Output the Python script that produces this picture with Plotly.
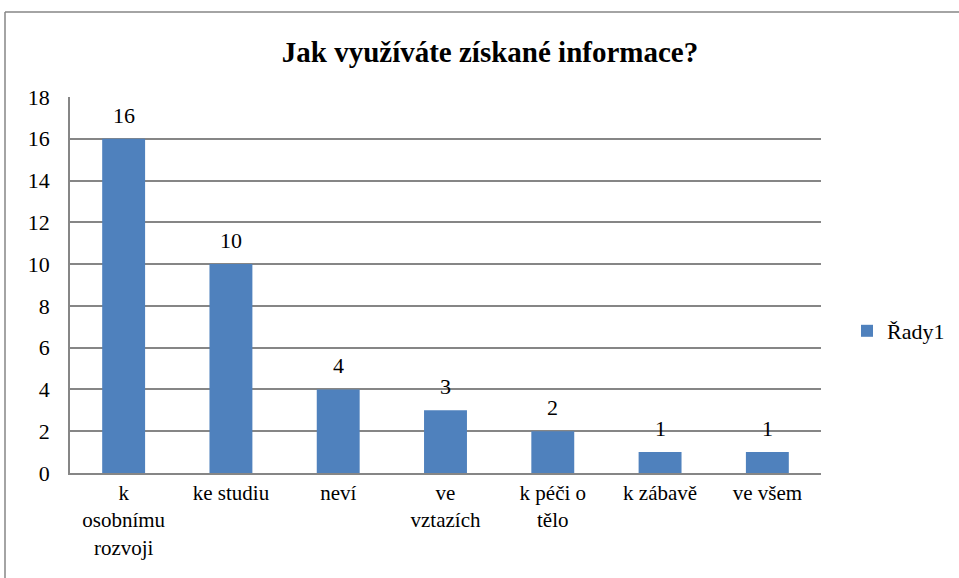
import plotly.graph_objects as go

categories = ["k<br>osobnímu<br>rozvoji", "ke studiu", "neví", "ve<br>vztazích",
              "k péči o<br>tělo", "k zábavě", "ve všem"]
values = [16, 10, 4, 3, 2, 1, 1]
series_name = "Řady1"
title_text = "Jak využíváte získané informace?"

FONT = "Liberation Serif"
GRID = "#868686"

fig = go.Figure()
fig.add_trace(go.Bar(
    x=categories, y=values, name=series_name,
    marker=dict(color="#4F81BD", line=dict(width=0)),
    showlegend=True,
))

W, H = 959, 578
L, R, T, B = 70, W - 821, 97, H - 473
pw, ph = W - L - R, H - T - B

def px_x(x):
    return (x - L) / pw

def px_y(y):
    return (H - B - y) / ph

annotations = [
    dict(x=c, y=v, xref="x", yref="y", text=str(v), showarrow=False,
         yanchor="bottom", yshift=9,
         font=dict(family=FONT, size=22, color="black"))
    for c, v in zip(categories, values)
]

fig.update_layout(
    width=W, height=H,
    margin=dict(l=L, r=R, t=T, b=B, autoexpand=False),
    paper_bgcolor="white", plot_bgcolor="white",
    title=dict(text="<b>" + title_text + "</b>", x=490 / W, xanchor="center",
               y=1 - 52 / H, yanchor="middle", xref="container", yref="container",
               font=dict(family=FONT, size=29, color="black")),
    bargap=0.6,
    showlegend=True,
    legend=dict(x=px_x(847), xanchor="left", y=px_y(331), yanchor="middle",
                font=dict(family=FONT, size=22, color="black"),
                bgcolor="rgba(0,0,0,0)", itemwidth=30, tracegroupgap=0),
    xaxis=dict(showline=True, linecolor=GRID, linewidth=1.5, ticks="",
               tickfont=dict(family=FONT, size=21, color="black"),
               showgrid=False),
    yaxis=dict(range=[0, 18], dtick=2, showgrid=True, gridcolor=GRID, gridwidth=1.5,
               showline=True, linecolor=GRID, linewidth=1.5, ticks="",
               ticklabelstandoff=14, zeroline=False,
               tickfont=dict(family=FONT, size=22, color="black")),
    annotations=annotations,
    shapes=[
        dict(type="line", xref="paper", yref="paper", x0=px_x(5), x1=px_x(1000),
             y0=px_y(12), y1=px_y(12), line=dict(color=GRID, width=1.5)),
        dict(type="line", xref="paper", yref="paper", x0=px_x(5), x1=px_x(5),
             y0=px_y(12), y1=px_y(620), line=dict(color=GRID, width=1.5)),
    ],
)

post = (
    "document.body.style.margin='0';"
    "document.querySelectorAll('svg text').forEach(function(t){"
    "t.style.fontFamily='\"Liberation Serif\", \"Times New Roman\", serif';});"
)

fig.write_html("out.html", config={"displayModeBar": False}, post_script=post)
